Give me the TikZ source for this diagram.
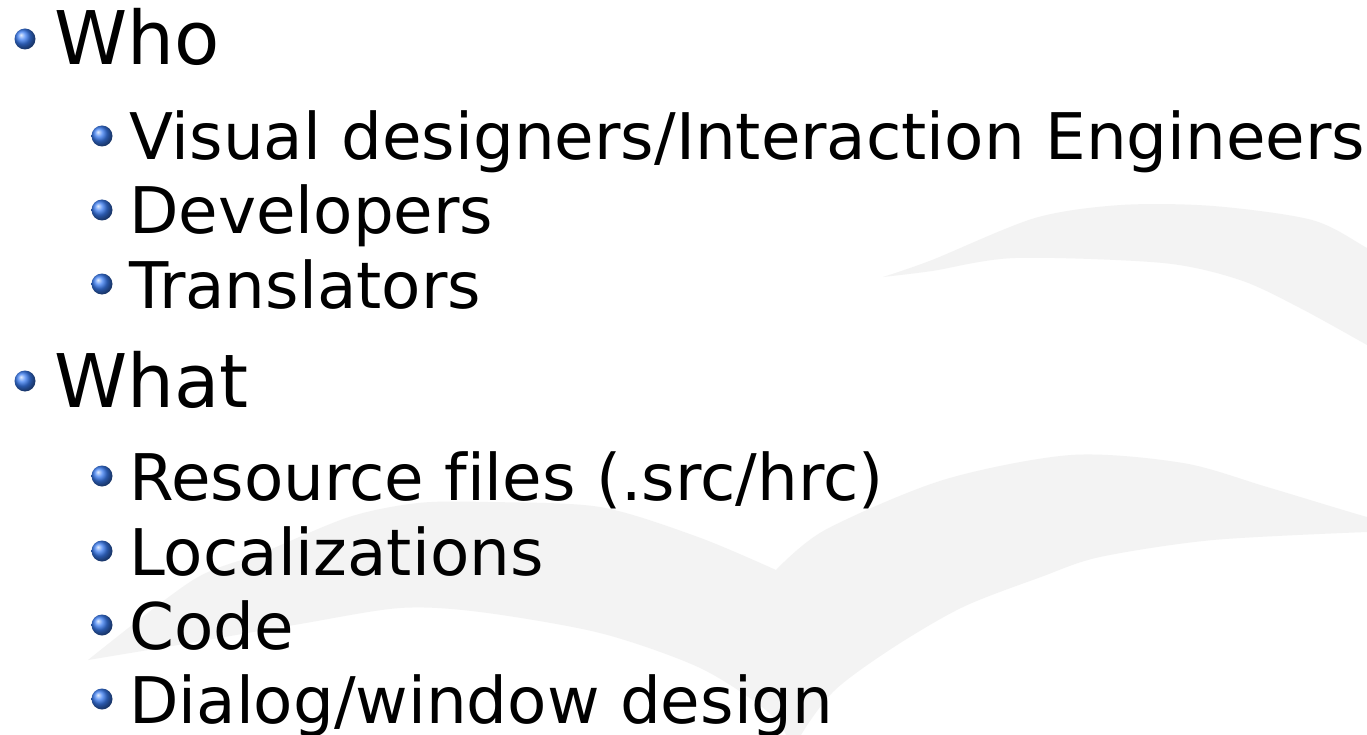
\documentclass[tikz,border=0pt]{standalone}
\usepackage{fontspec}
\setmainfont[Ligatures=NoCommon]{DejaVu Sans}
\definecolor{gullgrey}{HTML}{F3F3F3}
\definecolor{bulletblue}{HTML}{3A7CF2}
\tikzset{
  topic/.style={anchor=base west, inner sep=0pt, font=\fontsize{74}{80}\selectfont},
  subtopic/.style={anchor=base west, inner sep=0pt, font=\fontsize{64.3}{70}\selectfont},
  bulletball/.style={circle, inner sep=0pt, minimum size=21pt, ball color=bulletblue}
}

\begin{document}
\begin{tikzpicture}[x=1pt, y=-1pt]
    % Page
    \useasboundingbox[fill=white] (0,0) rectangle (1367,735);

    % Gull in the background
    \fill[gullgrey]
      plot[smooth] coordinates {(883,277) (932,260) (1035,218) (1121,205) (1213,206) (1312,220) (1367,248) (1420,280)}
      -- (1420,375)
      -- plot[smooth] coordinates {(1367,345) (1300,308) (1240,280) (1163,263) (1015,258) (932,271) (883,277)}
      -- cycle;
    \fill[gullgrey]
      plot[smooth] coordinates {(88,660) (193,580) (262,553) (349,517) (418,503) (488,502) (600,507) (698,537) (776,570)}
      -- plot[smooth] coordinates {(776,570) (825,530) (943,480) (1071,455) (1183,463) (1267,487) (1367,517) (1420,530)}
      -- (1420,533)
      -- plot[smooth] coordinates {(1367,532) (1213,540) (1100,557) (1041,577) (963,607) (894,647) (835,690) (801,735) (794,760)}
      -- plot[smooth] coordinates {(780,760) (786,735) (762,707) (698,667) (600,633) (480,612) (400,608) (300,624) (190,643) (88,660)}
      -- cycle;

    % Top level items
    \foreach \y/\txt [count=\i] in {65/Who, 407/What} {
      \node[bulletball] (topball\i) at (25,\y-26) {};
      \node[topic] (topic\i) at (54,\y) {\txt};
    }

    % Second level items
    \foreach \y/\txt [count=\i] in {160/{Visual designers/Interaction Engineers}, 234/Developers,
        308/Translators, 500/{Resource files (.src/hrc)}, 575/Localizations, 649/Code,
        723/{Dialog/window design}} {
      \node[bulletball] (subball\i) at (102,\y-24) {};
      \node[subtopic] (subtopic\i) at (129,\y) {\txt};
    }
\end{tikzpicture}
\end{document}
